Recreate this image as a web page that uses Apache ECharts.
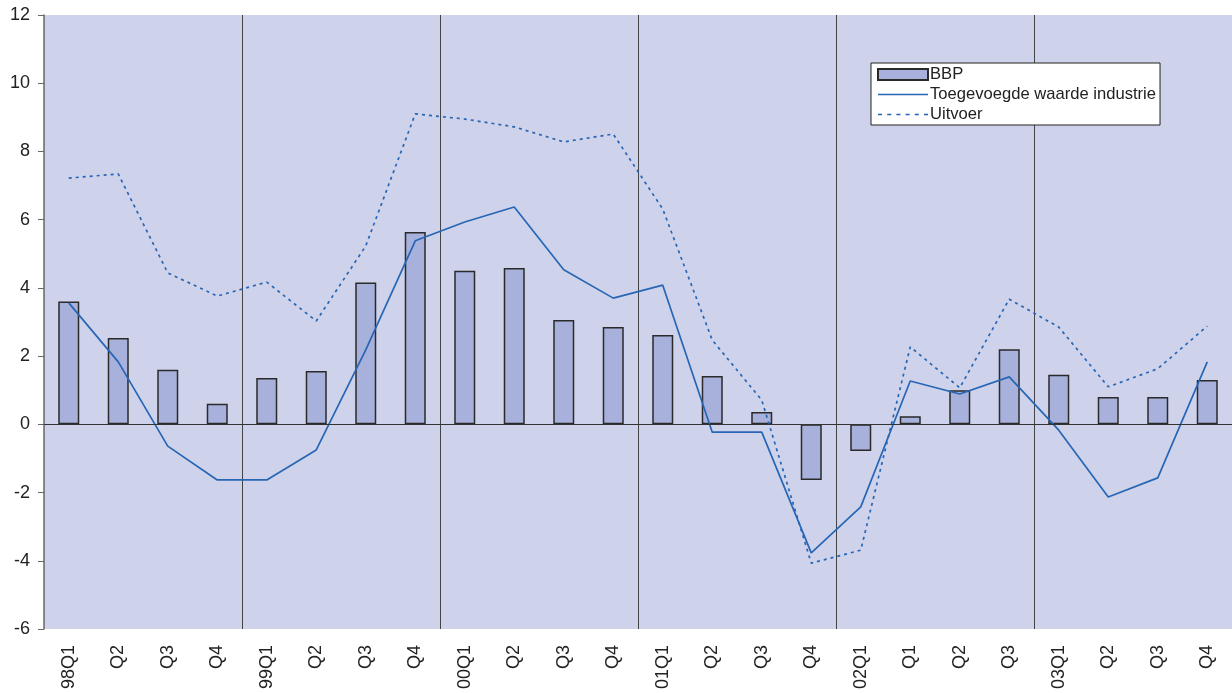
<!DOCTYPE html>
<html>
<head>
<meta charset="utf-8">
<script src="https://cdn.jsdelivr.net/npm/echarts@6/dist/echarts.min.js"></script>
<style>
    html, body { margin: 0; padding: 0; background: #fff; }
    #chart { width: 1232px; height: 693px; }
</style>
</head>
<body>
<div id="chart"></div>
<script>
// 数据
var categories = ['98Q1', 'Q2', 'Q3', 'Q4', '99Q1', 'Q2', 'Q3', 'Q4', '00Q1', 'Q2', 'Q3', 'Q4',
    '01Q1', 'Q2', 'Q3', 'Q4', '02Q1', 'Q1', 'Q2', 'Q3', '03Q1', 'Q2', 'Q3', 'Q4'];
var bbp = [3.6, 2.53, 1.6, 0.6, 1.36, 1.56, 4.16, 5.64, 4.5, 4.58, 3.06, 2.85,
    2.62, 1.42, 0.36, -1.63, -0.78, 0.24, 1.0, 2.2, 1.45, 0.8, 0.8, 1.3];
var industrie = [3.56, 1.83, -0.64, -1.63, -1.63, -0.75, 2.18, 5.38, 5.93, 6.37, 4.53, 3.7,
    4.08, -0.23, -0.23, -3.77, -2.42, 1.27, 0.89, 1.39, -0.17, -2.13, -1.57, 1.83];
var uitvoer = [7.22, 7.34, 4.44, 3.76, 4.17, 3.03, 5.23, 9.1, 8.95, 8.72, 8.28, 8.51,
    6.31, 2.47, 0.71, -4.07, -3.69, 2.27, 1.07, 3.67, 2.85, 1.1, 1.63, 2.88];

(function() {
    var myChart = echarts.init(document.querySelector('#chart'));
    var font = 'Liberation Sans, Arial, sans-serif';
    var lineColor = '#2766b5';
    // 图例图标: 实线和虚线
    var solidIcon = 'path://M0,0 H50 V1.6 H0 Z';
    var dashIcon = 'path://';
    for (var i = 0; i < 6; i++) {
        var x0 = i * 9;
        dashIcon += 'M' + x0 + ',0 H' + (x0 + 4) + ' V1.6 H' + x0 + ' Z ';
    }
    var option = {
        animation: false,
        backgroundColor: '#fff',
        textStyle: { fontFamily: font },
        grid: {
            left: 44,
            right: 0,
            top: 15,
            bottom: 64,
            show: true,
            backgroundColor: '#ced2ea',
            borderWidth: 0
        },
        legend: {
            left: 871,
            top: 63,
            orient: 'vertical',
            itemWidth: 50,
            itemHeight: 11,
            itemGap: 3,
            padding: [3, 4, 2, 6],
            backgroundColor: '#fff',
            borderColor: '#222',
            borderWidth: 1,
            borderRadius: 0,
            textStyle: { fontSize: 16.6, color: '#222', fontFamily: font, padding: [0, 0, 0, -3] },
            data: [
                { name: 'BBP', icon: 'rect' },
                { name: 'Toegevoegde waarde industrie', icon: solidIcon, itemStyle: { color: lineColor, borderWidth: 0 } },
                { name: 'Uitvoer', icon: dashIcon, itemStyle: { color: lineColor, borderWidth: 0 } }
            ]
        },
        xAxis: {
            type: 'category',
            data: categories,
            boundaryGap: true,
            axisLine: { lineStyle: { color: '#999', width: 1 } },
            axisTick: { show: false },
            axisLabel: {
                rotate: 90,
                interval: 0,
                fontSize: 18,
                color: '#222',
                margin: 16
            },
            splitLine: {
                show: true,
                interval: function(index) { return index % 4 === 0 && index > 0; },
                lineStyle: { color: '#444', width: 1 }
            }
        },
        yAxis: {
            type: 'value',
            min: -6,
            max: 12,
            interval: 2,
            axisLine: { show: true, lineStyle: { color: '#666', width: 1.5 } },
            axisTick: { show: true, length: 6, lineStyle: { color: '#666' } },
            axisLabel: { fontSize: 18, color: '#222', margin: 14 },
            splitLine: { show: false }
        },
        series: [{
                name: 'BBP',
                type: 'bar',
                barWidth: 21,
                data: bbp,
                itemStyle: {
                    color: '#a7b1db',
                    borderColor: '#2a2a2a',
                    borderWidth: 1.5
                },
                markLine: {
                    silent: true,
                    symbol: 'none',
                    label: { show: false },
                    lineStyle: { color: '#333', width: 1, type: 'solid' },
                    data: [{ yAxis: 0 }]
                },
                z: 2
            },
            {
                name: 'Toegevoegde waarde industrie',
                type: 'line',
                data: industrie,
                symbol: 'none',
                lineStyle: { color: lineColor, width: 1.7 },
                itemStyle: { color: lineColor },
                z: 3
            },
            {
                name: 'Uitvoer',
                type: 'line',
                data: uitvoer,
                symbol: 'none',
                lineStyle: { color: lineColor, width: 1.7, type: [3, 4] },
                itemStyle: { color: lineColor },
                z: 3
            }
        ]
    };
    myChart.setOption(option);
    window.addEventListener('resize', function() {
        myChart.resize();
    });
})();
</script>
</body>
</html>
